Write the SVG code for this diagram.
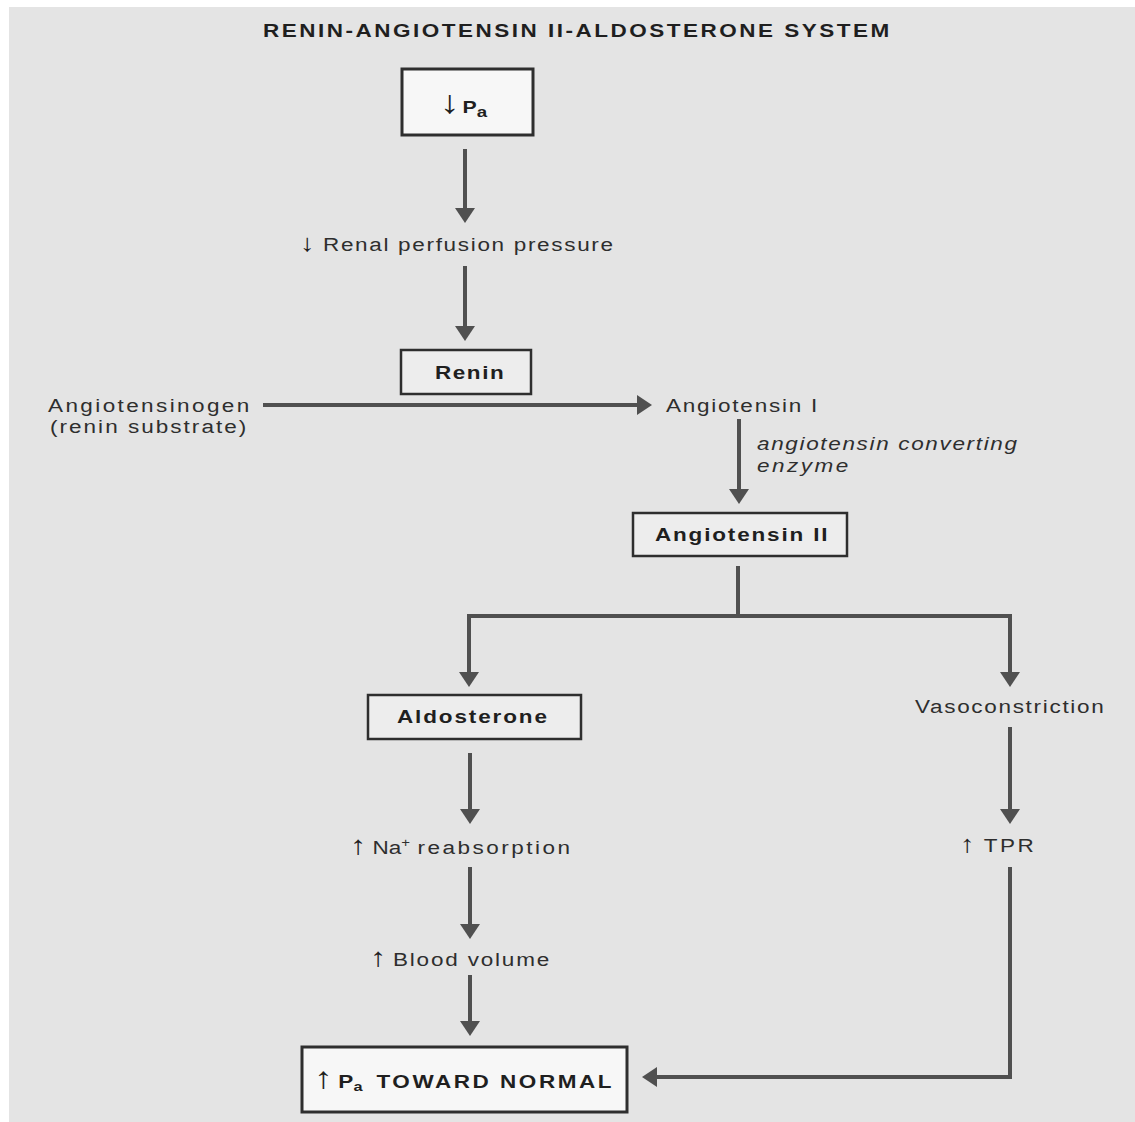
<svg xmlns="http://www.w3.org/2000/svg" width="1135" height="1122" viewBox="0 0 1135 1122">
<defs>
<marker id="ah" markerUnits="userSpaceOnUse" viewBox="0 0 15 20" markerWidth="15" markerHeight="20" refX="3" refY="10" orient="auto"><path d="M0,0 L15,10 L0,20 z" fill="#505050"/></marker>
</defs>
<style>
.t{font-family:"Liberation Sans",Arial,sans-serif;font-size:18px;fill:#2e2e2e}
.b{font-weight:bold;fill:#1f1f1f}
.i{font-style:italic}
.ar{font-weight:bold;fill:#1f1f1f}
.c{fill:none;stroke:#505050;stroke-width:4;stroke-linejoin:miter}
.box{fill:#f7f7f7;stroke:#2e2e2e;stroke-width:3}
.sbox{fill:#ededed;stroke:#2e2e2e;stroke-width:2.5}
</style>
<rect x="0" y="0" width="1135" height="1122" fill="#ffffff"/>
<rect x="9" y="7" width="1126" height="1115" fill="#e4e4e4"/>
<text class="t b" transform="translate(263,37) scale(1.25,1)" font-size="16" textLength="501" lengthAdjust="spacing">RENIN-ANGIOTENSIN II-ALDOSTERONE SYSTEM</text>

<g id="connectors">
<path class="c" d="M465,149 V211" marker-end="url(#ah)"/>
<path class="c" d="M465,266 V329" marker-end="url(#ah)"/>
<path class="c" d="M263,405 H640" marker-end="url(#ah)"/>
<path class="c" d="M739,419 V492" marker-end="url(#ah)"/>
<path class="c" d="M738,566 V616"/>
<path class="c" d="M740,616 H469 V675" marker-end="url(#ah)"/>
<path class="c" d="M736,616 H1010 V675" marker-end="url(#ah)"/>
<path class="c" d="M470,753 V812" marker-end="url(#ah)"/>
<path class="c" d="M470,867 V927" marker-end="url(#ah)"/>
<path class="c" d="M470,975 V1024" marker-end="url(#ah)"/>
<path class="c" d="M1010,727 V812" marker-end="url(#ah)"/>
<path class="c" d="M1010,867 V1077 H654" marker-end="url(#ah)"/>
</g>

<g id="pa-low">
<rect class="box" x="402" y="69" width="131" height="66"/>
<text class="t b" transform="translate(440,113) scale(1.25,1)"><tspan x="0" class="ar" font-size="32">↓</tspan><tspan x="18" font-size="17">P</tspan><tspan font-size="15" dy="4">a</tspan></text>
</g>

<g id="renal">
<text class="t" transform="translate(300,251) scale(1.25,1)"><tspan x="0" class="ar" font-size="24">↓</tspan><tspan x="18.4" textLength="232" lengthAdjust="spacing">Renal perfusion pressure</tspan></text>
</g>

<g id="renin">
<rect class="sbox" x="401" y="350" width="130" height="44"/>
<text class="t b" transform="translate(435,379) scale(1.25,1)" textLength="55" lengthAdjust="spacing">Renin</text>
</g>

<g id="angiotensinogen">
<text class="t" transform="translate(48,412) scale(1.25,1)" textLength="161" lengthAdjust="spacing">Angiotensinogen</text>
<text class="t" transform="translate(50,433) scale(1.25,1)" textLength="157" lengthAdjust="spacing">(renin substrate)</text>
</g>

<g id="angiotensin1">
<text class="t" transform="translate(666,412) scale(1.25,1)" textLength="121" lengthAdjust="spacing">Angiotensin I</text>
</g>

<g id="ace">
<text class="t i" transform="translate(757,450) scale(1.25,1)" textLength="208" lengthAdjust="spacing">angiotensin converting</text>
<text class="t i" transform="translate(757,472) scale(1.25,1)" textLength="73" lengthAdjust="spacing">enzyme</text>
</g>

<g id="angiotensin2">
<rect class="sbox" x="633" y="513" width="214" height="43"/>
<text class="t b" transform="translate(655,541) scale(1.25,1)" textLength="138" lengthAdjust="spacing">Angiotensin II</text>
</g>

<g id="aldosterone">
<rect class="sbox" x="368" y="695" width="213" height="44"/>
<text class="t b" transform="translate(397,723) scale(1.25,1)" textLength="120" lengthAdjust="spacing">Aldosterone</text>
</g>

<g id="vasoconstriction">
<text class="t" transform="translate(915,713) scale(1.25,1)" textLength="151" lengthAdjust="spacing">Vasoconstriction</text>
</g>

<g id="na">
<text class="t" transform="translate(350,854) scale(1.25,1)"><tspan x="0" class="ar" font-size="26">↑</tspan><tspan x="18">Na</tspan><tspan dy="-7" font-size="12">+</tspan><tspan x="54" y="0" textLength="122" lengthAdjust="spacing">reabsorption</tspan></text>
</g>

<g id="blood">
<text class="t" transform="translate(370,966) scale(1.25,1)"><tspan x="0" class="ar" font-size="26">↑</tspan><tspan x="18.4" textLength="125" lengthAdjust="spacing">Blood volume</tspan></text>
</g>

<g id="tpr">
<text class="t" transform="translate(960,852) scale(1.25,1)"><tspan x="0" class="ar" font-size="24">↑</tspan><tspan x="19" textLength="40" lengthAdjust="spacing">TPR</tspan></text>
</g>

<g id="pa-normal">
<rect class="box" x="302" y="1047" width="325" height="65"/>
<text class="t b" transform="translate(314,1088) scale(1.25,1)" font-size="20"><tspan x="0" font-size="30">↑</tspan><tspan x="19.5">P</tspan><tspan font-size="13" dy="3">a</tspan><tspan x="50" y="0" textLength="188" lengthAdjust="spacing">TOWARD NORMAL</tspan></text>
</g>
</svg>
